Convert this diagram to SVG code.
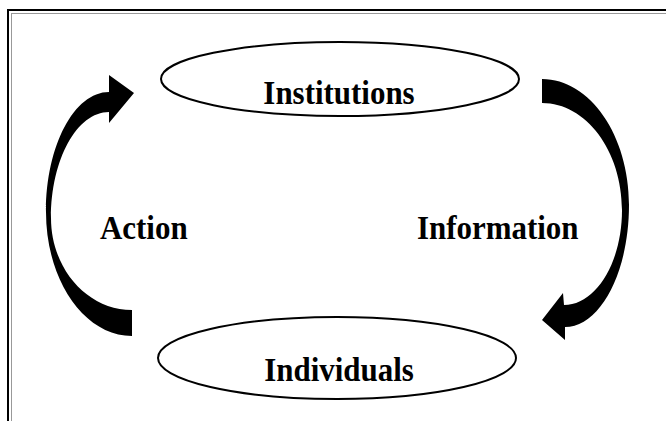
<svg xmlns="http://www.w3.org/2000/svg" width="666" height="421" viewBox="0 0 666 421">
<style>
.node ellipse{fill:#fff;stroke:#000;stroke-width:2}
.lbl{font-family:"Liberation Serif","Times New Roman",serif;font-weight:bold;font-size:34px;fill:#000}
.arrow{fill:#000;stroke:none}
</style>
<rect width="666" height="421" fill="#fff"/>
<g id="frame">
<rect x="8" y="10" width="700" height="450" fill="none" stroke="#000" stroke-width="2"/>
<rect x="11.5" y="13.5" width="700" height="450" fill="none" stroke="#999" stroke-width="1"/>
</g>
<g id="connectors">
<path class="arrow" d="M132,336 C84.5,336 46,280.5 46,212 C46,145.7 74.2,92 109,92 L109,75 L134,93 L109,123 L109,112 C77,112 51,159.5 51,218 C51,268.8 87.3,310 132,310 Z"/>
<path class="arrow" d="M542,79 C590,79 629,135.4 629,205 C629,272.4 600.3,327 565,327 L565,340 L542,320 L563,293 L564,305 C596,305 622,262.5 622,210 C622,150.9 586.2,103 542,103 Z"/>
</g>
<g id="institutions" class="node">
<ellipse cx="340" cy="79" rx="179" ry="37"/>
<text class="lbl" transform="translate(339,104) scale(0.91,1)" text-anchor="middle">Institutions</text>
</g>
<g id="individuals" class="node">
<ellipse cx="337" cy="358" rx="179" ry="41"/>
<text class="lbl" transform="translate(339,381) scale(0.91,1)" text-anchor="middle">Individuals</text>
</g>
<g id="action">
<text class="lbl" transform="translate(100,239) scale(0.91,1)">Action</text>
</g>
<g id="information">
<text class="lbl" transform="translate(417,239) scale(0.91,1)">Information</text>
</g>
</svg>
